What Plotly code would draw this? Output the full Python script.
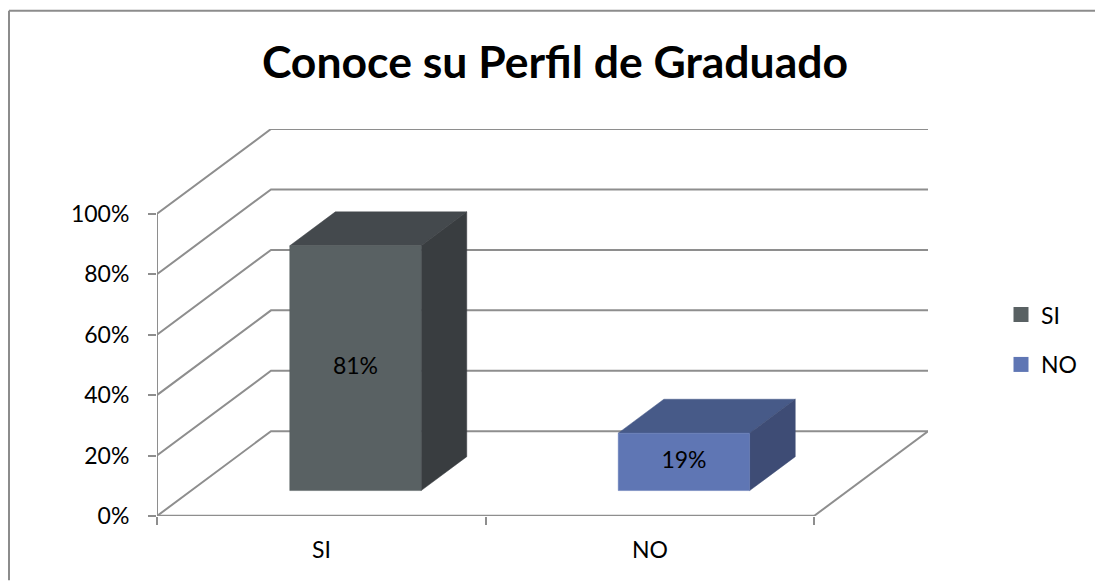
import plotly.graph_objects as go

# --- data ---
TITLE = "Conoce su Perfil de Graduado"
CATEGORIES = ["SI", "NO"]
VALUES = [81, 19]
Y_TICKS = [0, 20, 40, 60, 80, 100]

# --- oblique projection (style of the fake 3D plot) ---
DX, DY = 0.347, 28.05      # shift of the back wall in axis units
D0, D1 = 0.30, 0.70        # depth span of bars
HALF = 0.20                # half bar width in category units

FONT = "Lato, Carlito, sans-serif"
GRID = "#8e8e8e"
FRONT = ["#596163", "#5f76b4"]
TOP = ["#44494d", "#475a88"]
SIDE = ["#393d40", "#3e4c75"]
TXT = 23


def pr(x, y, d=0.0):
    return x + d * DX, y + d * DY


def poly(pts, color, name):
    xs, ys = zip(*pts)
    return go.Scatter(x=list(xs) + [xs[0]], y=list(ys) + [ys[0]], mode="lines", fill="toself",
                      fillcolor=color, line=dict(color=color, width=0.5), name=name,
                      showlegend=False, hoverinfo="skip", cliponaxis=False)


def line(xs, ys, width=2):
    return go.Scatter(x=xs, y=ys, mode="lines", line=dict(color=GRID, width=width),
                      showlegend=False, hoverinfo="skip", cliponaxis=False)


fig = go.Figure()

# gridlines: side wall then back wall
for t in Y_TICKS:
    a, b, c = pr(0, t), pr(0, t, 1), pr(2, t, 1)
    fig.add_trace(line([a[0], b[0], c[0]], [a[1], b[1], c[1]]))
# floor right edge, axes
a, b = pr(2, 0), pr(2, 0, 1)
fig.add_trace(line([a[0], b[0]], [a[1], b[1]]))
fig.add_trace(line([0, 2], [0, 0], 2.5))
fig.add_trace(line([0, 0], [0, 100], 2))

# bars
for i, (cat, v) in enumerate(zip(CATEGORIES, VALUES)):
    c = i + 0.5
    l, r = c - HALF, c + HALF
    fig.add_trace(poly([pr(l, v, D0), pr(r, v, D0), pr(r, v, D1), pr(l, v, D1)], TOP[i], cat))
    fig.add_trace(poly([pr(r, 0, D0), pr(r, 0, D1), pr(r, v, D1), pr(r, v, D0)], SIDE[i], cat))
    fig.add_trace(poly([pr(l, 0, D0), pr(r, 0, D0), pr(r, v, D0), pr(l, v, D0)], FRONT[i], cat))
    px, py = pr(c, v / 2, D0)
    fig.add_trace(go.Scatter(x=[px], y=[py], mode="text", text=[f"{v}%"], showlegend=False,
                             textfont=dict(family=FONT, size=TXT, color="#000"), hoverinfo="skip"))

# legend entries
for i, cat in enumerate(CATEGORIES):
    fig.add_trace(go.Scatter(x=[None], y=[None], mode="markers", name=cat, legendgroup=cat,
                             marker=dict(symbol="square", size=15, color=FRONT[i])))

W, H = 1095, 581
L, R, T, B = 157, 928, 128.5, 516.5


def px_x(p):
    return (p - L) / (R - L)


def px_y(p):
    return (B - p) / (B - T)


border = [
    dict(type="line", xref="paper", yref="paper", x0=px_x(9), x1=px_x(9), y0=px_y(10), y1=px_y(581),
         line=dict(color="#8c8c8c", width=2)),
    dict(type="line", xref="paper", yref="paper", x0=px_x(9), x1=px_x(1095), y0=px_y(10), y1=px_y(10),
         line=dict(color="#8c8c8c", width=2)),
]

annotations = [
    dict(text=cat, x=i + 0.5, y=0, xref="x", yref="y", yshift=-33, showarrow=False,
         font=dict(family=FONT, size=TXT, color="#000"))
    for i, cat in enumerate(CATEGORIES)
]

fig.update_layout(
    width=W, height=H,
    margin=dict(l=L, r=W - R, t=T, b=H - B, pad=0),
    paper_bgcolor="#fff", plot_bgcolor="#fff",
    title=dict(text=f"<b>{TITLE}</b>", x=(262 + 848) / 2 / W, xanchor="center", y=1 - 62 / H, yanchor="middle",
               font=dict(family=FONT, size=44.5, color="#000")),
    xaxis=dict(range=[0, 2 + DX], tickvals=[0, 1, 2], ticktext=["", "", ""], ticks="outside", ticklen=8,
               tickcolor=GRID, tickwidth=2, showgrid=False, zeroline=False, showline=False),
    yaxis=dict(range=[0, 100 + DY], tickvals=Y_TICKS, ticktext=[f"{t}%" for t in Y_TICKS], ticks="outside",
               ticklen=8, tickcolor=GRID, tickwidth=2, showgrid=False, zeroline=False, showline=False,
               tickfont=dict(family=FONT, size=TXT, color="#000"), ticklabelstandoff=14),
    legend=dict(x=px_x(1001), xanchor="left", y=px_y(293), yanchor="top", tracegroupgap=17,
                font=dict(family=FONT, size=TXT, color="#000"), itemsizing="trace", itemwidth=30,
                bgcolor="rgba(0,0,0,0)"),
    shapes=border, annotations=annotations, showlegend=True,
)

fig.write_html("out.html", config=dict(displayModeBar=False), post_script="document.body.style.margin='0';")
